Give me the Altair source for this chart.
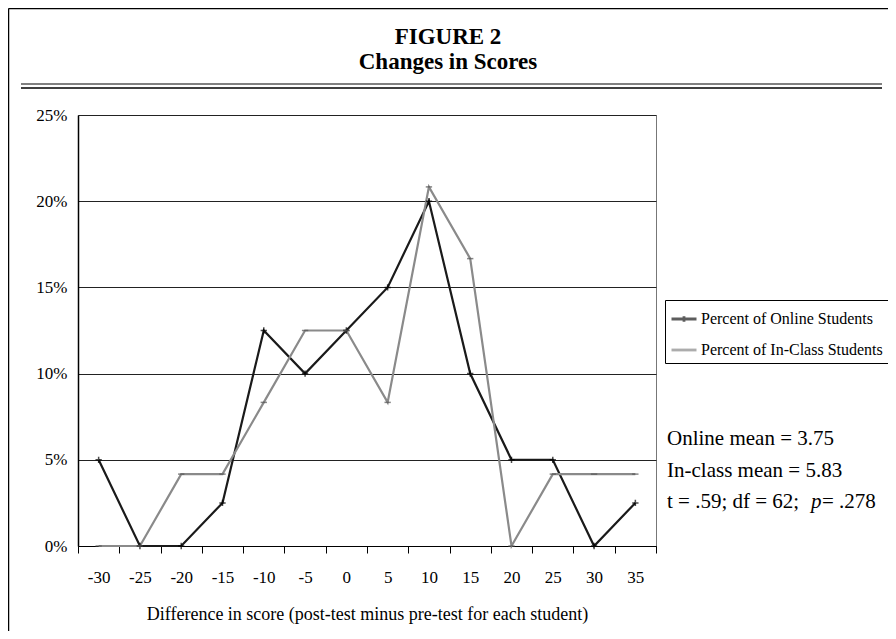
import altair as alt
import pandas as pd

# ---- data ----
categories = ["-30", "-25", "-20", "-15", "-10", "-5", "0", "5", "10", "15", "20", "25", "30", "35"]
online_pct = [5, 0, 0, 2.5, 12.5, 10, 12.5, 15, 20, 10, 5, 5, 0, 2.5]
inclass_pct = [0, 0, 4.17, 4.17, 8.33, 12.5, 12.5, 8.33, 20.83, 16.67, 0, 4.17, 4.17, 4.17]
series_names = ["Percent of Online Students", "Percent of In-Class Students"]
y_ticks = [0, 0.05, 0.10, 0.15, 0.20, 0.25]
title_lines = ["FIGURE 2", "Changes in Scores"]
x_title = "Difference in score  (post-test minus pre-test for each student)"
stats_lines = ["Online mean = 3.75", "In-class mean = 5.83"]
stats_t = ["t = .59; df = 62; ", "p", " = .278"]

rows = []
for name, vals in zip(series_names, [online_pct, inclass_pct]):
    for c, v in zip(categories, vals):
        rows.append({"diff": c, "pct": v / 100.0, "series": name})
df = pd.DataFrame(rows)

W, H = 578, 431
FONT = "Liberation Serif"
line_colors = ["#1a1a1a", "#8a8a8a"]
marker_colors = ["#000000", "#555555"]
plus_path = "M-1,0H1M0,-1V1"
dash_path = "M-1,0H1"
legend_paths = ["M-1,0H1M0,-0.22V0.22", "M-1,0H1"]

x_enc = alt.X(
    "diff:O",
    sort=categories,
    scale=alt.Scale(type="band", paddingInner=0, paddingOuter=0),
    axis=alt.Axis(
        title=x_title, labelAngle=0, tickBand="extent", tickSize=7, tickColor="black",
        domainColor="black", labelFont=FONT, labelFontSize=17, labelColor="black",
        labelPadding=16, titleFont=FONT, titleFontSize=18, titleFontWeight="normal",
        titleColor="black", titlePadding=20, grid=False,
    ),
)
y_enc = alt.Y(
    "pct:Q",
    scale=alt.Scale(domain=[0, 0.25], nice=False),
    axis=alt.Axis(
        title=None, values=y_ticks, format=".0%", ticks=False, domainColor="black",
        domainWidth=1.5, labelFont=FONT, labelFontSize=17, labelColor="black",
        labelPadding=11, grid=True, gridColor="#222222", gridWidth=1,
    ),
)

lines = alt.Chart(df).mark_line(strokeWidth=2.2).encode(
    x=x_enc,
    y=y_enc,
    color=alt.Color("series:N", scale=alt.Scale(domain=series_names, range=line_colors), legend=None),
)

points = alt.Chart(df).mark_point(filled=False, strokeWidth=1.5, size=40).encode(
    x=alt.X("diff:O", sort=categories),
    y="pct:Q",
    stroke=alt.Stroke("series:N", scale=alt.Scale(domain=series_names, range=marker_colors), legend=None),
    shape=alt.Shape("series:N", scale=alt.Scale(domain=series_names, range=[plus_path, dash_path]), legend=None),
)

legend_spec = alt.Legend(
    title=None, orient="none", legendX=587, legendY=185, direction="vertical",
    strokeColor="black", fillColor="white", padding=5, cornerRadius=0,
    labelFont=FONT, labelFontSize=16, labelColor="black", labelOffset=3,
    symbolSize=625, symbolStrokeWidth=2.8, rowPadding=8, labelLimit=400,
)
legend_layer = alt.Chart(df).transform_filter("false").mark_point(filled=False, strokeWidth=2.8).encode(
    x=alt.X("diff:O", sort=categories),
    y="pct:Q",
    stroke=alt.Stroke("series:N", scale=alt.Scale(domain=series_names, range=line_colors), legend=legend_spec),
    shape=alt.Shape("series:N", scale=alt.Scale(domain=series_names, range=legend_paths), legend=legend_spec),
)

def rule(x1, x2, y1, y2, color, width):
    return alt.Chart(pd.DataFrame({"k": [0]})).mark_rule(color=color, strokeWidth=width).encode(
        x=alt.value(x1), x2=alt.value(x2), y=alt.value(y1), y2=alt.value(y2)
    )

def text(t, x, y, size, weight="normal", style="normal", align="left"):
    return alt.Chart(pd.DataFrame({"t": [t]})).mark_text(
        font=FONT, fontSize=size, fontWeight=weight, fontStyle=style, align=align,
        baseline="alphabetic", color="black",
    ).encode(x=alt.value(x), y=alt.value(y), text="t:N")

decor = [
    rule(-69.5, 810, -106.5, -106.5, "black", 1.5),
    rule(-69.5, -69.5, -106.5, 516, "black", 1.5),
    rule(-57, 804, -31, -31, "#808080", 2),
    rule(-57, 804, -27, -27, "black", 1.5),
    text(title_lines[0], 370, -71, 23, weight="bold", align="center"),
    text(title_lines[1], 370, -46, 23, weight="bold", align="center"),
    text(stats_lines[0], 589, 330, 21),
    text(stats_lines[1], 589, 362, 21),
    text(stats_t[0], 589, 393, 21),
    text(stats_t[1], 733, 393, 21, style="italic"),
    text(stats_t[2], 744, 393, 21),
]

chart = alt.layer(lines, points, legend_layer, *decor).resolve_scale(
    stroke="independent", shape="independent"
).properties(
    width=W, height=H,
    autosize=alt.AutoSizeParams(type="none"),
    padding={"left": 70, "top": 107, "right": 232, "bottom": 85},
    background="white",
).configure_view(stroke="#777777", strokeWidth=1)

chart.save("out.html", embed_options={"renderer": "svg", "actions": False})
